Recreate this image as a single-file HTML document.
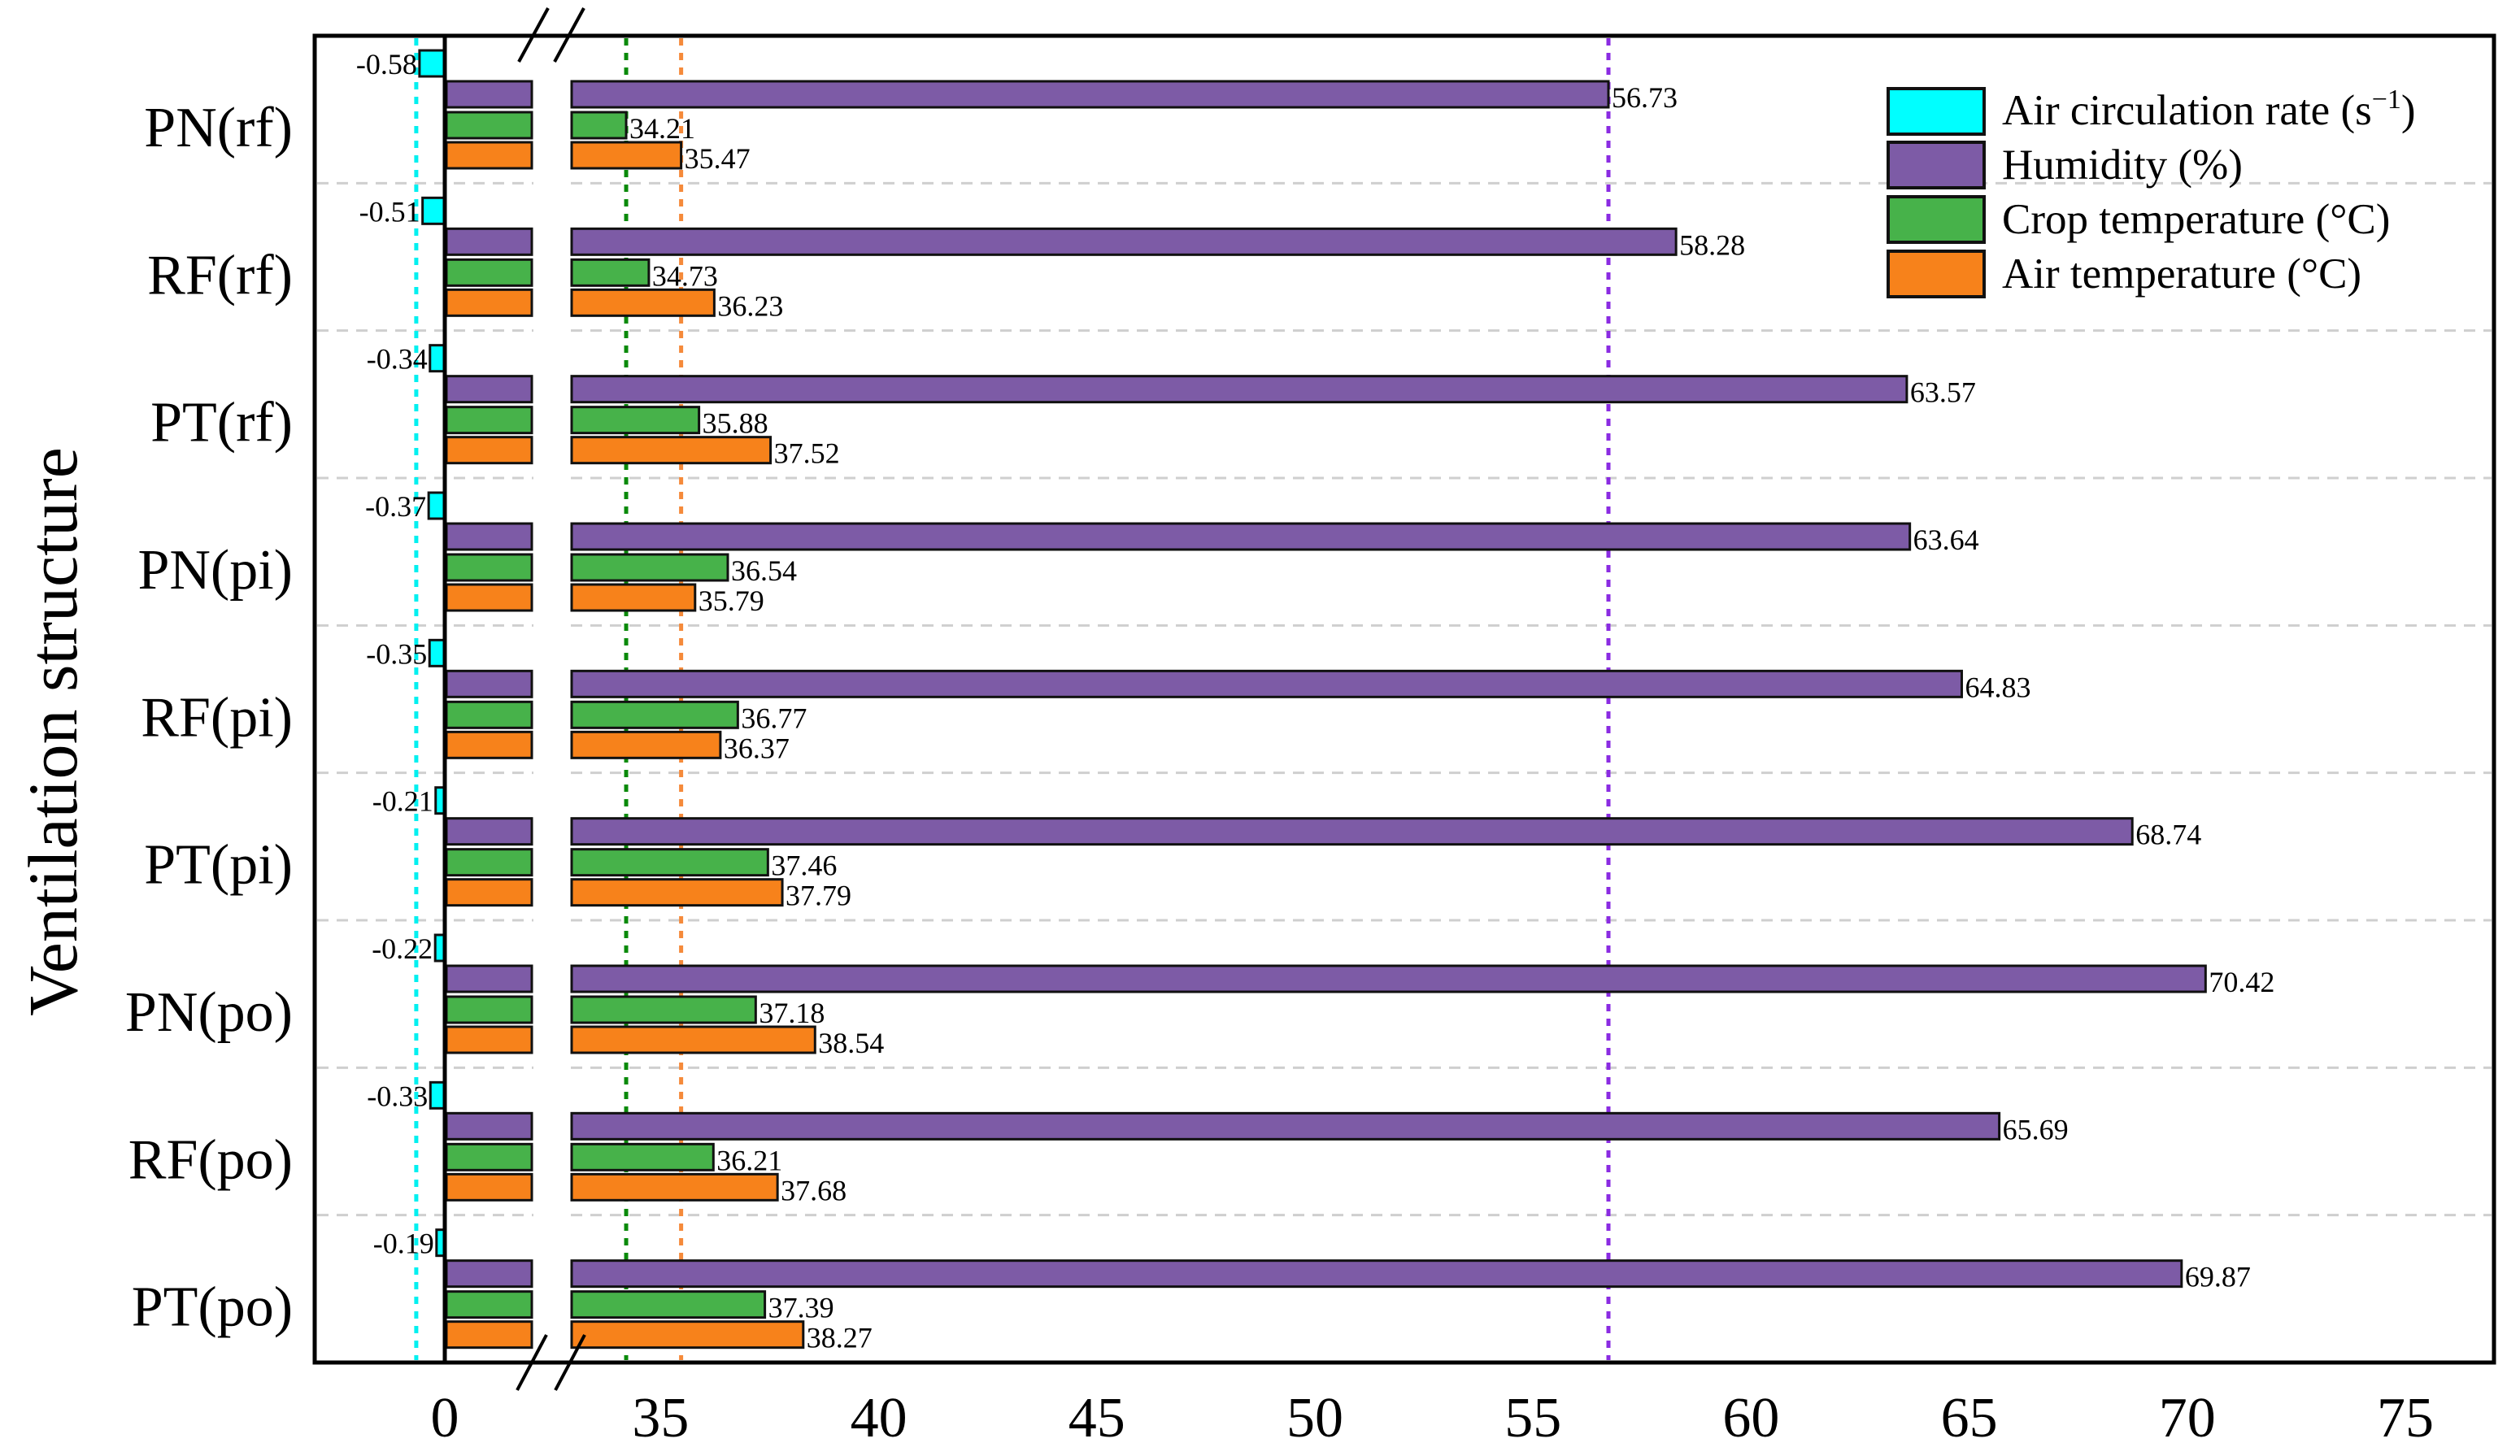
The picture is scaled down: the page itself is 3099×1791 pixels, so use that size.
<!DOCTYPE html>
<html><head><meta charset="utf-8">
<style>
html,body{margin:0;padding:0;background:#fff;}
svg{display:block;font-family:"Liberation Serif",serif;}
</style></head>
<body>
<svg id="chart" width="3099" height="1791" viewBox="0 0 3099 1791" xmlns="http://www.w3.org/2000/svg">
<g id="grid"></g>
<g id="refs"></g>
<g id="bars"></g>
<g id="labels"></g>
<rect x="387" y="44" width="2680" height="1632" fill="none" stroke="#000" stroke-width="5"/>
<line x1="547" y1="44" x2="547" y2="1676" stroke="#000" stroke-width="5"/>
<rect x="656" y="47" width="45" height="1626" fill="#fff"/>
<g stroke="#000" stroke-width="4">
<line x1="638" y1="76" x2="674" y2="10"/><line x1="682" y1="76" x2="718" y2="10"/>
<line x1="636" y1="1710" x2="672" y2="1642"/><line x1="683" y1="1710" x2="719" y2="1642"/>
</g>
<g id="ticks" font-size="70" text-anchor="middle" fill="#000"></g>
<g id="cats" font-size="70" text-anchor="end" fill="#000"></g>
<text x="0" y="0" font-size="86" text-anchor="middle" transform="translate(94,900) rotate(-90)">Ventilation structure</text>
<g font-size="53">
<g><rect x="2322" y="109" width="118" height="56" fill="#00FFFF" stroke="#111" stroke-width="4"/><text x="2462" y="153">Air circulation rate (s<tspan font-size="34" dy="-20">−1</tspan><tspan dy="20">)</tspan></text></g>
<g><rect x="2322" y="175" width="118" height="56" fill="#7D5BA6" stroke="#111" stroke-width="4"/><text x="2462" y="220">Humidity (%)</text></g>
<g><rect x="2322" y="242" width="118" height="56" fill="#47B24A" stroke="#111" stroke-width="4"/><text x="2462" y="287">Crop temperature (°C)</text></g>
<g><rect x="2322" y="309" width="118" height="56" fill="#F7821B" stroke="#111" stroke-width="4"/><text x="2462" y="354">Air temperature (°C)</text></g>
</g>
</svg>
<script>
const categories = ["PN(rf)","RF(rf)","PT(rf)","PN(pi)","RF(pi)","PT(pi)","PN(po)","RF(po)","PT(po)"];
const airCirc = [-0.58,-0.51,-0.34,-0.37,-0.35,-0.21,-0.22,-0.33,-0.19];
const humidity = [56.73,58.28,63.57,63.64,64.83,68.74,70.42,65.69,69.87];
const cropTemp = [34.21,34.73,35.88,36.54,36.77,37.46,37.18,36.21,37.39];
const airTemp = [35.47,36.23,37.52,35.79,36.37,37.79,38.54,37.68,38.27];
const tickValues = [0,35,40,45,50,55,60,65,70,75];
const tickLabels = ["0","35","40","45","50","55","60","65","70","75"];

const NS = "http://www.w3.org/2000/svg";
const U = 53.64;
function xLeft(v){ return 547 + v*U; }
function xRight(v){ return 812.4 + (v-35)*U; }
function xAny(v){ return v >= 20 ? xRight(v) : xLeft(v); }
const top0 = 44, pitch = 1632/categories.length;
function yGroup(i){ return top0 + i*pitch; }
function mk(tag, attrs, parent){
  const e = document.createElementNS(NS, tag);
  for (const k in attrs) e.setAttribute(k, attrs[k]);
  parent.appendChild(e); return e;
}
const grid = document.getElementById('grid'), refs = document.getElementById('refs');
const bars = document.getElementById('bars'), labels = document.getElementById('labels');
const ticks = document.getElementById('ticks'), cats = document.getElementById('cats');

for (let i = 1; i < categories.length; i++) {
  const y = yGroup(i);
  const l = mk('line', {x1:390, x2:3064, y1:y, y2:y, stroke:'#cfcfcf', 'stroke-width':3, 'stroke-dasharray':'14 10'}, grid);
  
  
}
const refDefs = [[Math.min(...airCirc),'#00F0F0'],[Math.min(...cropTemp),'#0A8A0A'],[Math.min(...airTemp),'#F58A3A'],[Math.min(...humidity),'#8A2BE2']];
refDefs.forEach(([v,c]) => {
  const x = v < 0 ? xLeft(v) - 4 : xAny(v);
  const l = mk('line', {x1:x, x2:x, y1:47, y2:1673, stroke:c, 'stroke-width':5, 'stroke-dasharray':'9 9'}, refs);
  
  
});

const series = [
  {vals: humidity, color:'#7D5BA6', off:56, name:'humidity'},
  {vals: cropTemp, color:'#47B24A', off:94, name:'crop-temp'},
  {vals: airTemp, color:'#F7821B', off:131, name:'air-temp'}
];
const H = 32;
categories.forEach((cat, i) => {
  const g0 = yGroup(i);
  const cv = airCirc[i];
  const cx = xLeft(cv);
  const cb = mk('rect', {x:cx, y:g0+18, width:547-cx, height:H, fill:'#00FFFF', stroke:'#111', 'stroke-width':3}, bars);
  
  
  const ct = mk('text', {x:cx-3, y:g0+18+H-3, 'font-size':36, 'text-anchor':'end'}, labels);
  ct.textContent = cv.toFixed(2);
  
  
  series.forEach(s => {
    const v = s.vals[i], y = g0 + s.off;
    const a = mk('rect', {x:549, y:y, width:105, height:H, fill:s.color, stroke:'#111', 'stroke-width':3}, bars);
    
    
    const xe = xRight(v);
    const b = mk('rect', {x:703, y:y, width:Math.max(0, xe-703), height:H, fill:s.color, stroke:'#111', 'stroke-width':3}, bars);
    
    
    const t = mk('text', {x:xe+4, y:y+H, 'font-size':36}, labels);
    t.textContent = v.toFixed(2);
    
    
  });
  const c = mk('text', {x:360, y:g0+136}, cats);
  c.textContent = cat;
  
  
});
tickValues.forEach((v, i) => {
  const t = mk('text', {x:xAny(v), y:1767}, ticks);
  t.textContent = tickLabels[i];
  
  
});
</script>
</body></html>
